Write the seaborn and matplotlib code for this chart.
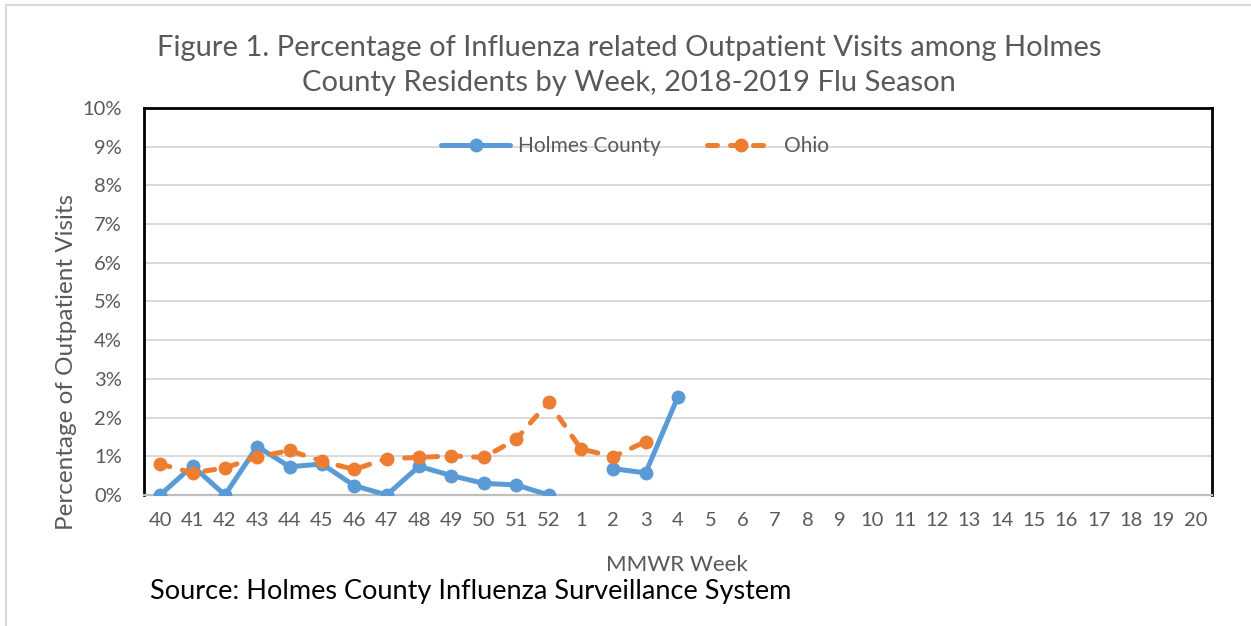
import numpy as np
import pandas as pd
import seaborn as sns
import matplotlib.pyplot as plt
from matplotlib.lines import Line2D

# MMWR weeks of the 2018-2019 season
weeks = [40, 41, 42, 43, 44, 45, 46, 47, 48, 49, 50, 51, 52,
         1, 2, 3, 4, 5, 6, 7, 8, 9, 10, 11, 12, 13, 14, 15, 16, 17, 18, 19, 20]

# percent of outpatient visits (None = no data)
holmes = [0.0, 0.75, 0.0, 1.25, 0.73, 0.8, 0.24, 0.0, 0.74, 0.5, 0.3, 0.26, 0.0,
          None, 0.68, 0.57, 2.54]
ohio = [0.8, 0.57, 0.7, 0.98, 1.15, 0.87, 0.66, 0.94, 0.97, 1.01, 0.97, 1.44, 2.4,
        1.19, 0.99, 1.38]

blue = '#5B9BD5'
orange = '#ED7D31'
gray_txt = '#595959'
dash = (2.0, 2.6)


def to_frame(values, name):
    rows = []
    seg = 0
    for i, v in enumerate(values):
        if v is None:
            seg += 1  # break the line where a week is missing
            continue
        rows.append({'pos': i, 'pct': v, 'series': name, 'seg': seg})
    return pd.DataFrame(rows)


df_h = to_frame(holmes, 'Holmes County')
df_o = to_frame(ohio, 'Ohio')

sns.set_style('white')
plt.rcParams['font.family'] = ['Lato', 'DejaVu Sans']

fig = plt.figure(figsize=(12.51, 6.26), dpi=100)
ax = fig.add_axes([0.1151, 0.2093, 0.8537, 0.6182])

sns.lineplot(data=df_h, x='pos', y='pct', units='seg', estimator=None,
             color=blue, lw=3.6, marker='o', markersize=10, markeredgewidth=0,
             legend=False, ax=ax, zorder=3)
sns.lineplot(data=df_o, x='pos', y='pct', units='seg', estimator=None,
             color=orange, lw=3.6, marker='o', markersize=10, markeredgewidth=0,
             legend=False, ax=ax, zorder=4)

for ln in ax.lines:
    ln.set_solid_capstyle('round')
    if ln.get_color() == orange:
        ln.set_dashes(dash)
        ln.set_dash_capstyle('round')

ax.set_xlim(-0.5, len(weeks) - 0.5)
ax.set_ylim(0, 10)
ax.set_xticks(range(len(weeks)))
ax.set_xticklabels([str(w) for w in weeks])
ax.set_yticks(range(0, 11))
ax.set_yticklabels([f'{v}%' for v in range(0, 11)])
ax.tick_params(axis='both', length=0, labelsize=14.5, labelcolor=gray_txt)
ax.tick_params(axis='x', pad=12)
ax.tick_params(axis='y', pad=16)

ax.grid(axis='y', color='#D9D9D9', lw=1.4)
ax.set_axisbelow(True)
for side in ['top', 'left', 'right']:
    ax.spines[side].set_color('black')
    ax.spines[side].set_linewidth(2)
ax.spines['bottom'].set_color('#BFBFBF')
ax.spines['bottom'].set_linewidth(1.6)

ax.set_xlabel('MMWR Week', fontsize=16, color=gray_txt, va='center')
ax.xaxis.set_label_coords(0.499, -0.181)
ax.set_ylabel('Percentage of Outpatient Visits', fontsize=17.5, color=gray_txt)
ax.yaxis.set_label_coords(-0.063, 0.344)

handles = [
    Line2D([], [], color=blue, lw=3.6, marker='o', markersize=10, markeredgewidth=0),
    Line2D([], [], color=orange, lw=3.6, marker='o', markersize=10, markeredgewidth=0,
           dashes=dash, dash_capstyle='round'),
]
leg = ax.legend(handles, ['Holmes County', 'Ohio'], loc='center', ncol=2,
                bbox_to_anchor=(0.46, 0.902), frameon=False, fontsize=15,
                handlelength=3.3, columnspacing=2.2, handletextpad=0.4)
for t in leg.get_texts():
    t.set_color(gray_txt)

fig.text(0.503, 0.895, 'Figure 1. Percentage of Influenza related Outpatient Visits among Holmes\n'
         'County Residents by Week, 2018-2019 Flu Season',
         ha='center', va='center', fontsize=21, color=gray_txt, linespacing=1.45)
fig.text(0.12, 0.055, 'Source: Holmes County Influenza Surveillance System',
         ha='left', va='center', fontsize=19.5, color='black')

# outer chart border (partly cropped in the reference)
fig.add_artist(Line2D([0.005, 1.0], [0.992, 0.992], color='#D9D9D9', lw=1.5,
                      transform=fig.transFigure))
fig.add_artist(Line2D([0.005, 0.005], [0.0, 0.992], color='#D9D9D9', lw=1.5,
                      transform=fig.transFigure))

fig.savefig('out.png', dpi=100)
